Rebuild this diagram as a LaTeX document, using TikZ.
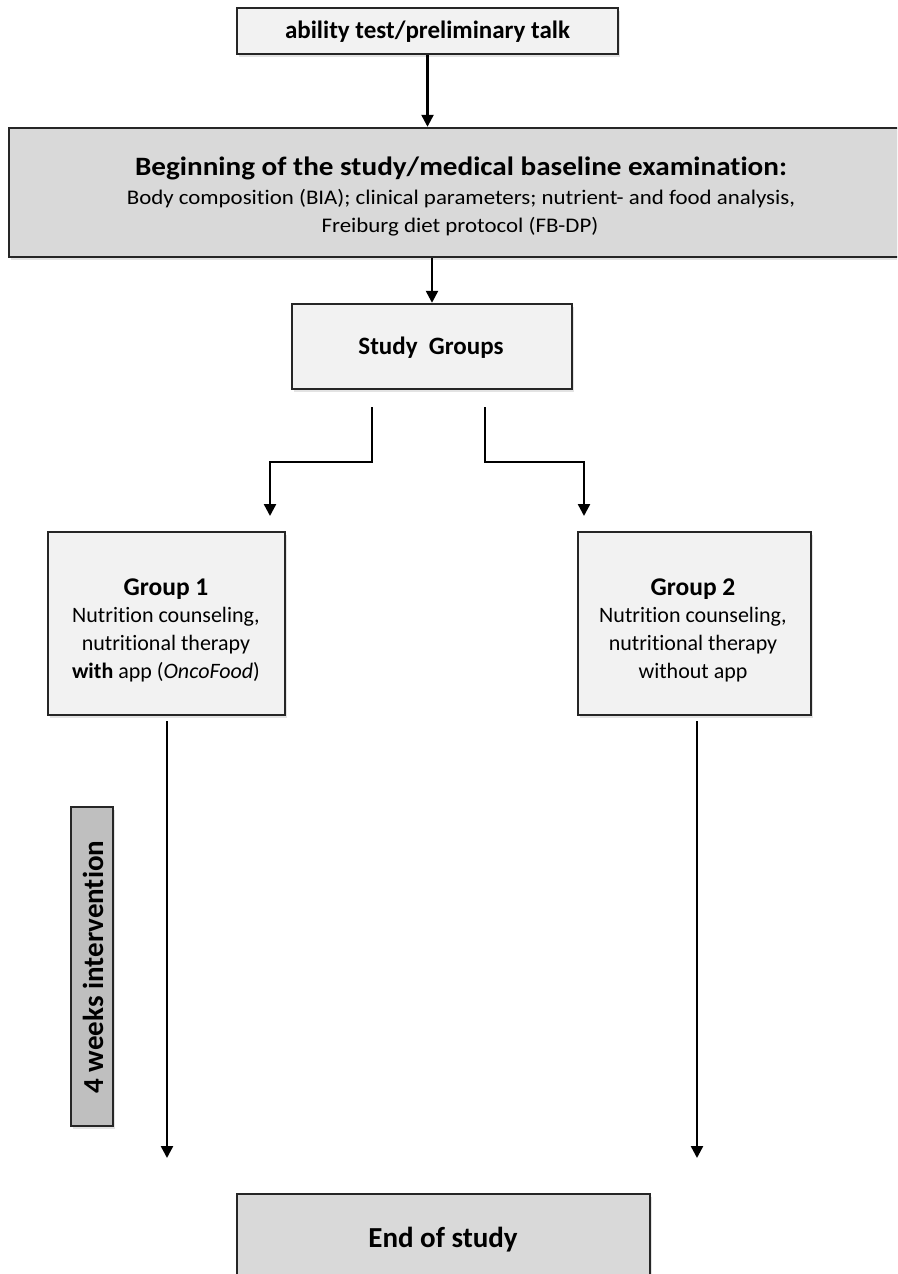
\documentclass[tikz,border=0pt]{standalone}
\usepackage{fontspec}
\setmainfont{Carlito}[Ligatures=NoCommon]
\newfontfamily\widefont{Carlito}[FakeStretch=1.1,Ligatures=NoCommon]
\usetikzlibrary{arrows.meta,shadows}
\definecolor{boxlight}{HTML}{F2F2F2}
\definecolor{boxmid}{HTML}{D9D9D9}
\definecolor{boxdark}{HTML}{BFBFBF}
\definecolor{edge}{HTML}{262626}
\tikzset{
  box/.style={draw=edge, line width=2.4pt, rectangle, inner sep=0pt,
    drop shadow={shadow xshift=2pt, shadow yshift=-3pt, opacity=0.22}},
  txt/.style={inner sep=0pt, align=center, text=black},
  arr/.style={line width=2.4pt, draw=black, -{Triangle[length=12pt,width=12pt]}}
}
\newcommand{\fs}[2]{\fontsize{#1}{#2}\selectfont}
\begin{document}
\begin{tikzpicture}[x=1pt,y=-1pt]
\useasboundingbox (0,0) rectangle (897,1274);
\clip (0,0) rectangle (897,1274);
\fill[white] (0,0) rectangle (897,1274);

% boxes
\node[box, fill=boxlight, minimum width=381pt, minimum height=46pt] (top) at (427.5,31) {};
\node[txt, font=\fs{25}{29}\bfseries] (toptxt) at (427.5,32) {ability test/preliminary talk};

\node[box, fill=boxmid, minimum width=911pt, minimum height=129pt] (base) at (464.5,192.5) {};
\node[txt, anchor=base, font=\widefont\fs{26.5}{30}\bfseries] (basetitle) at (461,175) {Beginning of the study/medical baseline examination:};
\node[txt, anchor=base, font=\widefont\fs{20.8}{28}] (basesub1) at (461,204) {Body composition (BIA); clinical parameters; nutrient- and food analysis,};
\node[txt, anchor=base, font=\widefont\fs{20.8}{28}] (basesub2) at (460,232) {Freiburg diet protocol (FB-DP)};

\node[box, fill=boxlight, minimum width=280pt, minimum height=85pt] (sg) at (432,346.5) {};
\node[txt, font=\fs{25}{29}\bfseries] (sgtxt) at (431,348) {Study\ \ Groups};

\node[box, fill=boxlight, minimum width=237pt, minimum height=183pt] (g1) at (166.5,623.5) {};
\node[txt, font=\fs{22}{27.7}] (g1txt) at (166,630) {{\fs{25.5}{27.7}\bfseries Group 1}\\
  Nutrition counseling,\\ nutritional\ therapy\\ \textbf{with} app (\textit{OncoFood})};

\node[box, fill=boxlight, minimum width=233pt, minimum height=183pt] (g2) at (694.5,623.5) {};
\node[txt, font=\fs{22}{27.7}] (g2txt) at (693,630) {{\fs{25.5}{27.7}\bfseries Group 2}\\
  Nutrition counseling,\\ nutritional therapy\\ without app};

\node[box, fill=boxdark, minimum width=42pt, minimum height=319pt] (weeks) at (92,966.5) {};
\node[txt, font=\fs{29}{32}\bfseries, rotate=90] (weekstxt) at (93,967) {4 weeks intervention};

\node[box, fill=boxmid, minimum width=413pt, minimum height=106pt] (end) at (443.5,1247) {};
\node[txt, font=\fs{29}{32}\bfseries] (endtxt) at (443,1240) {End of study};

% connectors
\draw[arr] (top.south) -- (top.south |- base.north);
\draw[arr] (sg.north |- base.south) -- (sg.north);

\coordinate (l0) at (372,407);
\coordinate (l1) at (270,516);
\coordinate (r0) at (485,407);
\coordinate (r1) at (584,516);
\draw[arr] (l0) -- ++(0,55) -| (l1);
\draw[arr] (r0) -- ++(0,55) -| (r1);

\coordinate (l2) at (167,721);
\coordinate (l3) at (167,1158);
\coordinate (r2) at (697,721);
\coordinate (r3) at (697,1158);
\draw[arr] (l2) -- (l3);
\draw[arr] (r2) -- (r3);
\end{tikzpicture}
\end{document}
